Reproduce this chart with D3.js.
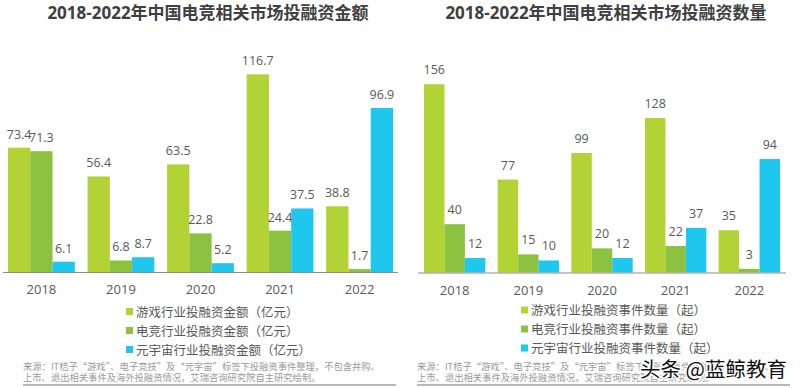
<!DOCTYPE html>
<html>
<head>
<meta charset="utf-8">
<script src="https://cdn.jsdelivr.net/npm/d3@7"></script>
<style>
  body { margin: 0; background: #fff; }
  svg { display: block; font-family: "Open Sans", "Noto Sans CJK SC", sans-serif; }
</style>
</head>
<body>
<div id="app"></div>
<script>
// ---------- Data ----------
const YEARS = ["2018", "2019", "2020", "2021", "2022"];

const AMOUNT_GAME = [73.4, 56.4, 63.5, 116.7, 38.8];
const AMOUNT_ESPORTS = [71.3, 6.8, 22.8, 24.4, 1.7];
const AMOUNT_META = [6.1, 8.7, 5.2, 37.5, 96.9];

const COUNT_GAME = [156, 77, 99, 128, 35];
const COUNT_ESPORTS = [40, 15, 20, 22, 3];
const COUNT_META = [12, 10, 12, 37, 94];

const AMOUNT_LEGEND = ["游戏行业投融资金额（亿元）", "电竞行业投融资金额（亿元）", "元宇宙行业投融资金额（亿元）"];
const COUNT_LEGEND = ["游戏行业投融资事件数量（起）", "电竞行业投融资事件数量（起）", "元宇宙行业投融资事件数量（起）"];

const SOURCE_LINES = [
    "来源：IT桔子“游戏”、电子竞技”及“元宇宙”标签下投融资事件整理，不包含并购、",
    "上市、退出相关事件及海外投融资情况，艾瑞咨询研究院自主研究绘制。"
];

const COLORS = ["#b3d235", "#8cc23f", "#1fc7ef"];
const TEXT_COLOR = "#595959";

const svg = d3.select("#app").append("svg")
    .attr("width", 800)
    .attr("height", 388);

// ---------- One panel ----------
function drawPanel(opt) {
    const g = svg.append("g");
    const series = [opt.game, opt.esports, opt.meta];

    // title
    g.append("text")
        .attr("x", opt.titleX).attr("y", 19)
        .attr("text-anchor", "middle")
        .attr("font-size", 17).attr("font-weight", "bold")
        .attr("fill", "#404040")
        .text(opt.title);

    const x0 = d3.scaleBand()
        .domain(YEARS)
        .range(opt.xRange)
        .paddingInner(opt.pad)
        .paddingOuter(0);
    const x1 = d3.scaleBand()
        .domain([0, 1, 2])
        .range([0, x0.bandwidth()]);
    const y = d3.scaleLinear()
        .domain([0, opt.yMax])
        .range([opt.base, opt.yTop]);

    const cells = [];
    YEARS.forEach((yr, i) => series.forEach((s, k) => cells.push({yr, k, v: s[i]})));

    g.selectAll("rect.bar")
        .data(cells)
        .enter().append("rect")
        .attr("class", "bar")
        .attr("x", d => x0(d.yr) + x1(d.k))
        .attr("width", x1.bandwidth())
        .attr("y", d => y(d.v))
        .attr("height", d => y(0) - y(d.v))
        .attr("fill", d => COLORS[d.k]);

    g.selectAll("text.val")
        .data(cells)
        .enter().append("text")
        .attr("class", "val")
        .attr("x", d => x0(d.yr) + x1(d.k) + x1.bandwidth() / 2)
        .attr("y", d => y(d.v) - opt.labelGap)
        .attr("text-anchor", "middle")
        .attr("font-size", 12.5)
        .attr("fill", TEXT_COLOR)
        .text(d => d.v);

    // x-axis
    const axis = g.append("g")
        .attr("transform", `translate(0, ${opt.base})`)
        .call(d3.axisBottom(x0).tickSize(0).tickPadding(13));
    axis.select(".domain").remove();
    axis.selectAll("text")
        .attr("font-size", 13)
        .attr("font-family", "\"Open Sans\", sans-serif")
        .attr("fill", TEXT_COLOR);
    g.append("line")
        .attr("x1", opt.axisX[0]).attr("x2", opt.axisX[1])
        .attr("y1", opt.base + 0.5).attr("y2", opt.base + 0.5)
        .attr("stroke", "#8c8c8c").attr("stroke-width", 1.2);

    // legend
    const leg = g.selectAll("g.leg")
        .data(opt.legend)
        .enter().append("g")
        .attr("class", "leg")
        .attr("transform", (d, i) => `translate(${opt.legendX}, ${opt.legendY + i * 19})`);
    leg.append("rect")
        .attr("x", 0).attr("y", -4)
        .attr("width", 7).attr("height", 7)
        .attr("fill", (d, i) => COLORS[i]);
    leg.append("text")
        .attr("x", 10).attr("y", 0)
        .attr("dy", "0.36em")
        .attr("font-size", 12.5)
        .attr("fill", TEXT_COLOR)
        .text(d => d);

    // source note
    g.selectAll("text.src")
        .data(SOURCE_LINES)
        .enter().append("text")
        .attr("class", "src")
        .attr("x", opt.srcX)
        .attr("y", (d, i) => 369.5 + i * 11)
        .attr("font-size", 9.3)
        .attr("font-family", "\"Noto Sans CJK SC\", sans-serif")
        .attr("fill", "#9a9a9a")
        .text(d => d);
    g.append("line")
        .attr("x1", opt.srcX).attr("x2", opt.srcLineEnd)
        .attr("y1", 385).attr("y2", 385)
        .attr("stroke", "#b8b8b8").attr("stroke-width", 2);
}

drawPanel({
    title: "2018-2022年中国电竞相关市场投融资金额",
    titleX: 208,
    game: AMOUNT_GAME, esports: AMOUNT_ESPORTS, meta: AMOUNT_META,
    xRange: [8, 393], pad: 0.16,
    yMax: 120, base: 272, yTop: 272 - 120 * 1.694,
    labelGap: 9,
    axisX: [3, 398],
    legend: AMOUNT_LEGEND, legendX: 126, legendY: 312,
    srcX: 23, srcLineEnd: 396
});

drawPanel({
    title: "2018-2022年中国电竞相关市场投融资数量",
    titleX: 606,
    game: COUNT_GAME, esports: COUNT_ESPORTS, meta: COUNT_META,
    xRange: [424, 780], pad: 0.167,
    yMax: 160, base: 272.5, yTop: 272.5 - 160 * 1.207,
    labelGap: 10,
    axisX: [418, 786],
    legend: COUNT_LEGEND, legendX: 521, legendY: 310.5,
    srcX: 417, srcLineEnd: 790
});

// watermark
svg.append("text")
    .attr("x", 640).attr("y", 377)
    .attr("font-size", 20.5)
    .attr("font-family", "\"Noto Sans CJK SC\", sans-serif")
    .attr("fill", "#111")
    .attr("stroke", "#fff").attr("stroke-width", 3)
    .attr("paint-order", "stroke")
    .text("头条 @蓝鲸教育");
</script>
</body>
</html>
